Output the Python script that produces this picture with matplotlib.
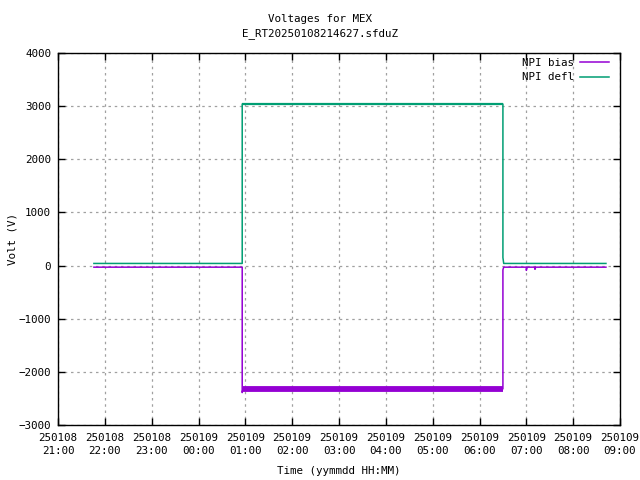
import matplotlib
matplotlib.use("Agg")
import matplotlib.pyplot as plt
import matplotlib.dates as mdates
import pandas as pd

# DATA
bias_times = ["2025-01-08 21:46", "2025-01-09 00:56", "2025-01-09 00:56", "2025-01-09 00:57",
              "2025-01-09 06:30", "2025-01-09 06:30", "2025-01-09 06:31", "2025-01-09 07:00",
              "2025-01-09 07:00", "2025-01-09 07:01", "2025-01-09 07:11", "2025-01-09 07:11",
              "2025-01-09 07:12", "2025-01-09 08:42"]
bias_volts = [-30, -30, -2390, -2320, -2320, -80, -30, -30, -90, -30, -30, -70, -30, -30]

# noisy plateau of the bias, drawn as a thick band
bias_plateau_times = ["2025-01-09 00:57", "2025-01-09 06:30"]
bias_plateau_volts = [-2320, -2320]

defl_times = ["2025-01-08 21:46", "2025-01-09 00:56", "2025-01-09 00:56", "2025-01-09 06:30",
              "2025-01-09 06:30", "2025-01-09 06:31", "2025-01-09 08:42"]
defl_volts = [40, 40, 3040, 3040, 150, 40, 40]

x_start = "2025-01-08 21:00"
x_end = "2025-01-09 09:00"
title = "Voltages for MEX\nE_RT20250108214627.sfduZ"

plt.rcParams['font.family'] = ['DejaVu Sans Mono']
plt.rcParams['font.size'] = 7.8

fig = plt.figure(figsize=(6.4, 4.8), dpi=100)
ax = fig.add_axes([58/640, 55/480, 562/640, 372/480])

purple = "#9400d3"
green = "#009e73"

ax.plot(pd.to_datetime(bias_times), bias_volts, color=purple, lw=1.1, label="NPI bias")
ax.plot(pd.to_datetime(bias_plateau_times), bias_plateau_volts, color=purple, lw=4.2,
        solid_capstyle="butt")
ax.plot(pd.to_datetime(defl_times), defl_volts, color=green, lw=1.1, label="NPI defl")
ax.plot(pd.to_datetime(defl_times[2:4]), defl_volts[2:4], color=green, lw=1.6,
        solid_capstyle="butt")

ax.set_xlim(pd.Timestamp(x_start), pd.Timestamp(x_end))
ax.set_ylim(-3000, 4000)
ax.set_yticks(range(-3000, 4001, 1000))
ax.xaxis.set_major_locator(mdates.HourLocator(interval=1))
ax.xaxis.set_major_formatter(mdates.DateFormatter("%y%m%d\n%H:%M"))
for lbl in ax.get_xticklabels():
    lbl.set_linespacing(1.35)

ax.grid(True, color="#a0a0a0", linestyle=(0, (2, 3)), lw=0.9)
ax.tick_params(direction="in", top=True, right=True, length=5, width=1, pad=6)
ax.tick_params(axis="y", pad=5)
for s in ax.spines.values():
    s.set_linewidth(1)

ax.set_xlabel("Time (yymmdd HH:MM)", labelpad=7)
ax.set_ylabel("Volt (V)", labelpad=1)
fig.text(0.5, 1 - 26.5/480, title, ha="center", va="center", linespacing=1.4)

ax.legend(loc="upper right", frameon=False, markerfirst=False, handlelength=2.7,
          handletextpad=0.55, borderaxespad=0.3, labelspacing=0.45,
          bbox_to_anchor=(1 - 3/562, 1 + 3/372))

fig.savefig("out.png", dpi=100)
